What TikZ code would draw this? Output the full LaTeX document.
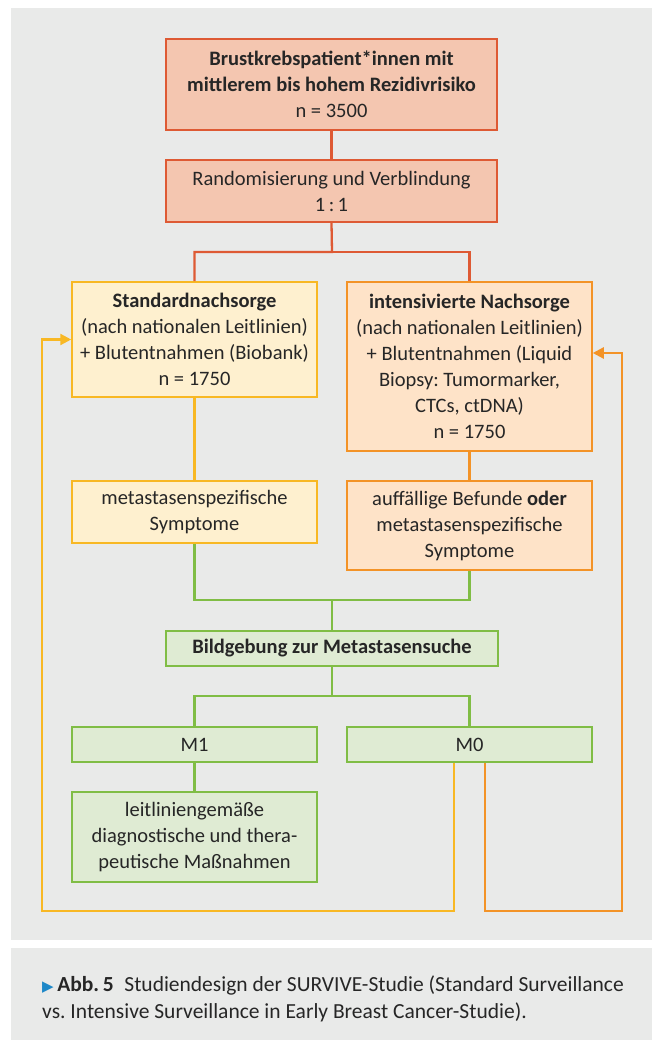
\documentclass[tikz,border=0pt]{standalone}
\usepackage{fontspec}
\setmainfont{Carlito}
\newfontfamily\symfont{DejaVu Sans}
\usetikzlibrary{arrows.meta,calc}
\frenchspacing
\definecolor{panel}{HTML}{E9EAE9}
\definecolor{txt}{HTML}{262626}
\definecolor{redfill}{HTML}{F4C6B0}
\definecolor{redline}{HTML}{DE5A34}
\definecolor{yelfill}{HTML}{FEF0CF}
\definecolor{yelline}{HTML}{F8B824}
\definecolor{orafill}{HTML}{FEE3C8}
\definecolor{oraline}{HTML}{F39327}
\definecolor{grnfill}{HTML}{DFEBD3}
\definecolor{grnline}{HTML}{80BD45}
\definecolor{capblue}{HTML}{1E88C8}
\begin{document}
\begin{tikzpicture}[x=1pt,y=-1pt,
  box/.style={draw, line width=1.5pt, inner sep=0pt, align=center, text=txt,
    font=\fontsize{20.5}{26}\selectfont},
  redbox/.style={box, fill=redfill, draw=redline},
  yelbox/.style={box, fill=yelfill, draw=yelline},
  orabox/.style={box, fill=orafill, draw=oraline},
  grnbox/.style={box, fill=grnfill, draw=grnline},
  conn/.style={line width=2.3pt},
  tip/.style={-{Triangle[length=11pt,width=11pt]}}
]
\useasboundingbox (0,0) rectangle (655,1040);
\fill[white] (0,0) rectangle (655,1040);
\fill[panel] (11,8) rectangle (652,940);
\fill[panel] (11,948) rectangle (652,1040);

\node[redbox, minimum width=331pt, minimum height=91pt] (b1) at (331.5,84.5)
  {\textbf{Brustkrebspatient*innen mit}\\\textbf{mittlerem bis hohem Rezidivrisiko}\\n = 3500};
\node[redbox, minimum width=331pt, minimum height=62pt] (b2) at (331.5,191)
  {Randomisierung und Verblindung\\1\,:\,1};
\node[yelbox, minimum width=245pt, minimum height=115pt] (std) at (194.5,339.5)
  {\textbf{Standardnachsorge}\\(nach nationalen Leitlinien)\\+ Blutentnahmen (Biobank)\\n = 1750};
\node[orabox, minimum width=245pt, minimum height=169pt] (int) at (469.5,366.5)
  {\textbf{intensivierte Nachsorge}\\(nach nationalen Leitlinien)\\+ Blutentnahmen (Liquid\\Biopsy: Tumormarker,\\CTCs, ctDNA)\\n = 1750};
\node[yelbox, minimum width=245pt, minimum height=62pt] (stdsym) at (194.5,512)
  {metastasenspezifische\\Symptome};
\node[orabox, minimum width=245pt, minimum height=89pt] (intsym) at (469.5,525.5)
  {auffällige Befunde \textbf{oder}\\metastasenspezifische\\Symptome};
\node[grnbox, minimum width=332pt, minimum height=35pt] (bild) at (332,648.5)
  {\textbf{Bildgebung zur Metastasensuche}};
\node[grnbox, minimum width=245pt, minimum height=35pt] (m1) at (194.5,744.5) {M1};
\node[grnbox, minimum width=245pt, minimum height=35pt] (m0) at (469.5,744.5) {M0};
\node[grnbox, minimum width=245pt, minimum height=90pt] (leit) at (194.5,837)
  {leitliniengemäße\\diagnostische und thera-\\peutische Maßnahmen};

\coordinate (j1) at (332,252);
\coordinate (j2) at (332,600);
\coordinate (j3) at (332,696);
\coordinate (cy) at (42,911);
\coordinate (co) at (622,911);

\draw[conn, redline] (b1.south) -- (b2.north);
\draw[conn, redline] (b2.south) -- (j1) -| (std.north);
\draw[conn, redline] (j1) -| (int.north);
\draw[conn, yelline] (std.south) -- (stdsym.north);
\draw[conn, oraline] (int.south) -- (intsym.north);
\draw[conn, grnline] (stdsym.south) |- (j2) -| (intsym.south);
\draw[conn, grnline] (j2) -- (bild.north);
\draw[conn, grnline] (bild.south) -- (j3);
\draw[conn, grnline] (m1.north) |- (j3) -| (m0.north);
\draw[conn, grnline] (m1.south) -- (leit.north);
\draw[conn, yelline, tip] ([xshift=-15.5pt]m0.south) |- (cy) |- (std.west);
\draw[conn, oraline, tip] ([xshift=15.5pt]m0.south) |- (co) |- ([yshift=13.5pt]int.east);

\node[anchor=north west, align=left, text=txt, inner sep=0pt,
  font=\fontsize{21.5}{27}\selectfont] (cap) at (42,976)
  {{\color{capblue}\symfont\fontsize{15}{15}\selectfont ▶}\,\textbf{Abb.\,5}\enspace Studiendesign der SURVIVE-Studie (Standard Surveillance\\vs. Intensive Surveillance in Early Breast Cancer-Studie).};
\end{tikzpicture}
\end{document}
